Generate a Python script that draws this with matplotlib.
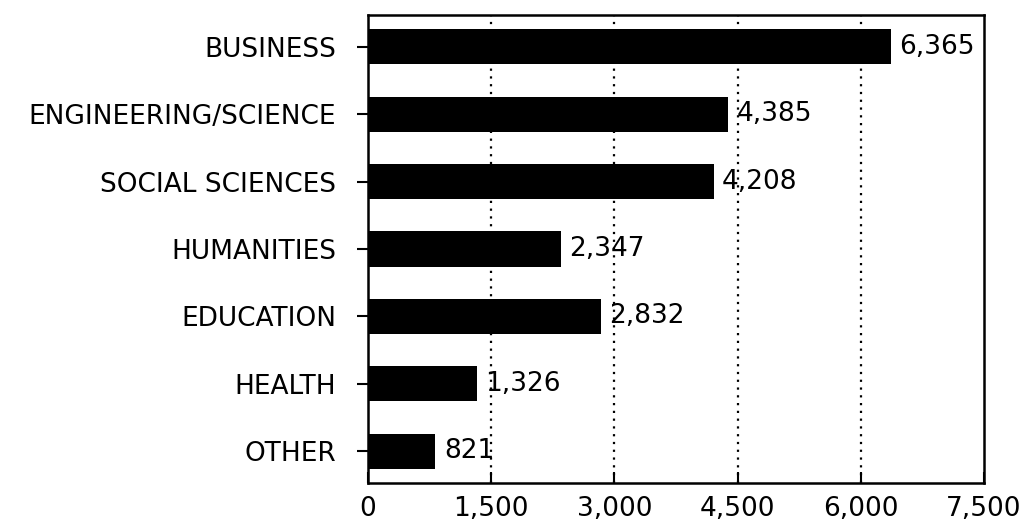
import matplotlib
matplotlib.use("Agg")
import matplotlib.pyplot as plt

categories = ["BUSINESS", "ENGINEERING/SCIENCE", "SOCIAL SCIENCES", "HUMANITIES",
              "EDUCATION", "HEALTH", "OTHER"]
values = [6365, 4385, 4208, 2347, 2832, 1326, 821]
value_labels = ["6,365", "4,385", "4,208", "2,347", "2,832", "1,326", "821"]
xticks = [0, 1500, 3000, 4500, 6000, 7500]
xtick_labels = ["0", "1,500", "3,000", "4,500", "6,000", "7,500"]

plt.rcParams['font.family'] = ['DejaVu Sans']

fig = plt.figure(figsize=(10.26, 5.29), dpi=100)
ax = fig.add_axes([0.3587, 0.0869, 0.6004, 0.8847])

ypos = list(range(len(categories)))
ax.barh(ypos, values, height=0.52, color="black", zorder=3)

for x in xticks[1:-1]:
    ax.axvline(x, color="black", linestyle=(0, (1, 2.5)), linewidth=1.6, zorder=1)

for y, v, lab in zip(ypos, values, value_labels):
    ax.annotate(lab, xy=(v, y), xytext=(6, 0), textcoords="offset points",
                va="center", ha="left", fontsize=19, color="black", zorder=4)

ax.set_xlim(0, 7500)
ax.set_ylim(len(categories) - 0.53, -0.47)
ax.set_yticks(ypos)
ax.set_yticklabels(categories, fontsize=19)
ax.set_xticks(xticks)
ax.set_xticklabels(xtick_labels, fontsize=19)

ax.tick_params(axis="y", direction="out", length=8, width=1.5, pad=15)
ax.tick_params(axis="x", direction="in", length=8, width=1.5, pad=9)

for s in ax.spines.values():
    s.set_linewidth(1.8)
    s.set_color("black")

fig.savefig("out.png", dpi=100, facecolor="white")
